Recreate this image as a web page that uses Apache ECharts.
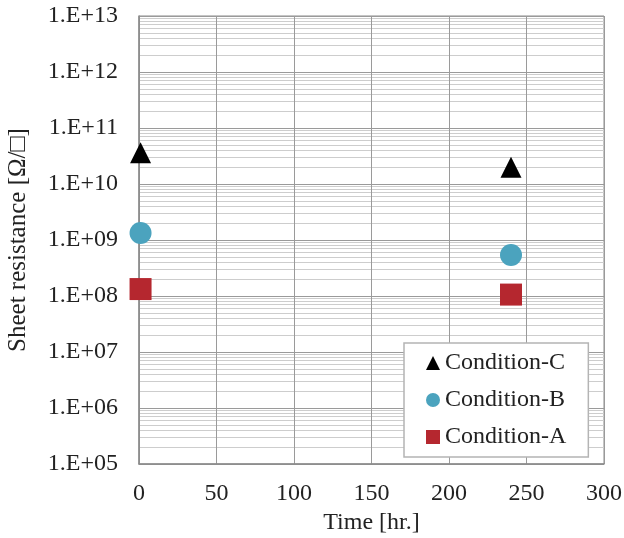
<!DOCTYPE html>
<html>
<head>
<meta charset="utf-8">
<script src="https://cdn.jsdelivr.net/npm/echarts@6/dist/echarts.min.js"></script>
<style>
html, body { margin: 0; padding: 0; background: #fff; }
#chart-panel { width: 624px; height: 538px; }
</style>
</head>
<body>
<div id="chart-panel"></div>
<script>
var myChart = echarts.init(document.getElementById('chart-panel'));

// hours, resistance in ohm/sq
var timesC = [1, 240];
var condC = [3.6e10, 2.0e10];
var timesB = [1, 240];
var condB = [1.33e9, 5.4e8];
var timesA = [1, 240];
var condA = [1.33e8, 1.06e8];

var seriesNames = ['Condition-C', 'Condition-B', 'Condition-A'];
var xTicks = [0, 50, 100, 150, 200, 250, 300];
var yMinExp = 5, yMaxExp = 13;

var font = 'Liberation Serif';

function pairs(xs, ys) {
	var res = [];
	for (var i = 0; i < xs.length; i++) {
		res.push([xs[i], ys[i]]);
	}
	return res;
}

var option = {
	backgroundColor: '#fff',
	animation: false,
	grid: {
		left: 139,
		right: 20,
		top: 16,
		bottom: 74,
		outerBoundsMode: 'none',
		containLabel: false,
		show: true,
		borderColor: '#8a8a8a',
		borderWidth: 1
	},
	legend: {
		orient: 'vertical',
		left: 404,
		top: 343,
		padding: [8, 22],
		itemGap: 13,
		itemWidth: 14,
		itemHeight: 14,
		backgroundColor: '#fff',
		borderColor: '#b4b4b4',
		borderWidth: 1.5,
		data: seriesNames,
		textStyle: {
			fontFamily: font,
			fontSize: 24,
			lineHeight: 24,
			color: '#222'
		}
	},
	xAxis: {
		type: 'value',
		min: xTicks[0],
		max: xTicks[xTicks.length - 1],
		interval: 50,
		name: 'Time [hr.]',
		nameLocation: 'middle',
		nameGap: 46,
		nameTextStyle: { fontFamily: font, fontSize: 24, color: '#222' },
		axisLine: { lineStyle: { color: '#8a8a8a', width: 1.5 } },
		axisTick: { show: false },
		axisLabel: { margin: 18, fontFamily: font, fontSize: 24, color: '#222' },
		splitLine: { show: true, lineStyle: { color: '#9a9a9a', width: 1 } }
	},
	yAxis: {
		type: 'log',
		logBase: 10,
		min: Math.pow(10, yMinExp),
		max: Math.pow(10, yMaxExp),
		name: 'Sheet resistance [Ω/□]',
		nameLocation: 'middle',
		nameGap: 108,
		nameTextStyle: { fontFamily: font, fontSize: 25, color: '#222' },
		axisLine: { show: true, lineStyle: { color: '#8a8a8a', width: 1.5 } },
		axisTick: { show: false },
		axisLabel: {
			margin: 21,
			fontFamily: font,
			fontSize: 24,
			color: '#222',
			formatter: function (v) {
				var e = Math.round(Math.log(v) / Math.LN10);
				return '1.E+' + (e < 10 ? '0' + e : e);
			}
		},
		splitLine: { show: true, lineStyle: { color: '#9a9a9a', width: 1 } },
		minorTick: { show: false, splitNumber: 9 },
		minorSplitLine: { show: true, lineStyle: { color: '#cdcdcd', width: 1 } }
	},
	series: [
		{
			name: seriesNames[0],
			type: 'scatter',
			symbol: 'triangle',
			symbolSize: 21,
			itemStyle: { color: '#000', opacity: 1 },
			data: pairs(timesC, condC)
		},
		{
			name: seriesNames[1],
			type: 'scatter',
			symbol: 'circle',
			symbolSize: 22,
			itemStyle: { color: '#4ba3be', opacity: 1 },
			data: pairs(timesB, condB)
		},
		{
			name: seriesNames[2],
			type: 'scatter',
			symbol: 'rect',
			symbolSize: 22,
			itemStyle: { color: '#b5272f', opacity: 1 },
			data: pairs(timesA, condA)
		}
	]
};
myChart.setOption(option);
</script>
</body>
</html>
